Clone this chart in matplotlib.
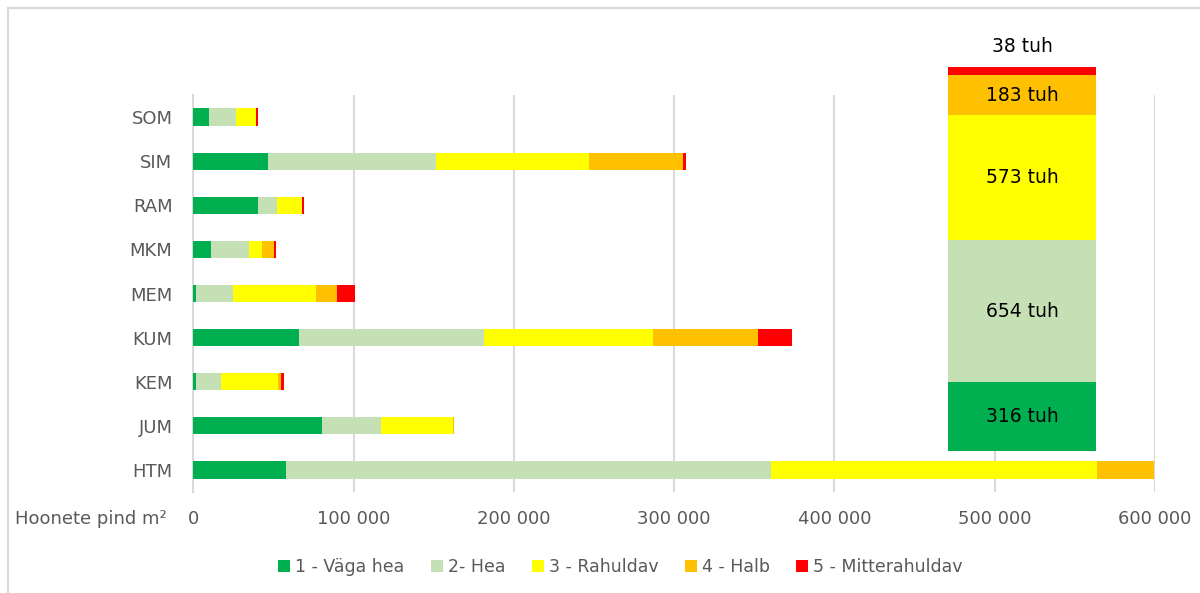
"""Hoonete pind seisukorra järgi ministeeriumide lõikes."""

import numpy as np
import matplotlib
matplotlib.use("Agg")
import matplotlib.pyplot as plt
from matplotlib.patches import Rectangle

# Andmed (m²), loetud jooniselt
ministries = ['HTM', 'JUM', 'KEM', 'KUM', 'MEM', 'MKM', 'RAM', 'SIM', 'SOM']
vaga_hea = [57800, 80000, 1900, 65900, 1900, 11000, 40200, 46600, 9800]
hea = [302800, 37400, 15400, 115200, 22600, 23900, 12000, 104800, 16600]
rahuldav = [203100, 44600, 35300, 105700, 51800, 7900, 15800, 95500, 12700]
halb = [36100, 900, 1900, 65400, 13200, 7300, 0, 58400, 0]
mitterahuldav = [0, 0, 1800, 21200, 11400, 1400, 1300, 2200, 1100]

categories = ['1 - Väga hea', '2- Hea', '3 - Rahuldav', '4 - Halb', '5 - Mitterahuldav']
colors = ['#00B050', '#C5E0B4', '#FFFF00', '#FFC000', '#FF0000']

# Kokku (tuh m²)
totals = [316, 654, 573, 183, 38]
total_labels = ['316 tuh', '654 tuh', '573 tuh', '183 tuh', '38 tuh']

x_ticks = [0, 100000, 200000, 300000, 400000, 500000, 600000]
x_ticklabels = ['0', '100 000', '200 000', '300 000', '400 000', '500 000', '600 000']

plt.rcParams['font.family'] = ['DejaVu Sans']
gray = '#595959'


def draw_main(fig):
    ax = fig.add_axes([0.1611, 0.1703, 0.8012, 0.6695])
    series = [vaga_hea, hea, rahuldav, halb, mitterahuldav]
    y = np.arange(len(ministries))
    left = np.zeros(len(ministries))
    for vals, name, col in zip(series, categories, colors):
        ax.barh(y, vals, left=left, height=0.39, color=col, label=name, zorder=3)
        left += np.array(vals)

    ax.set_ylim(-0.5, len(ministries) - 0.5)
    ax.set_xlim(0, 600000)
    ax.set_yticks(y)
    ax.set_yticklabels(ministries, fontsize=13, color=gray)
    ax.set_xticks(x_ticks)
    ax.set_xticklabels(x_ticklabels, fontsize=13, color=gray)
    ax.tick_params(axis='both', length=0)
    ax.tick_params(axis='y', pad=15)
    ax.tick_params(axis='x', pad=13)
    ax.grid(axis='x', color='#D9D9D9', linewidth=1.5, zorder=0)
    for side in ['top', 'right', 'bottom']:
        ax.spines[side].set_visible(False)
    ax.spines['left'].set_color('#D9D9D9')
    ax.spines['left'].set_linewidth(1.5)

    fig.text(15 / 1200, 1 - 519 / 593, 'Hoonete pind m²', fontsize=13,
             color=gray, ha='left', va='center')

    handles, labels = ax.get_legend_handles_labels()
    fig.legend(handles, labels, loc='center', bbox_to_anchor=(0.517, 1 - 567 / 593),
               ncol=5, frameon=False, fontsize=12.5, handlelength=0.7, handleheight=0.7,
               handletextpad=0.3, columnspacing=1.5, labelcolor=gray)
    return ax


def draw_totals(fig):
    ax = fig.add_axes([948 / 1200, 1 - 451 / 593, 148 / 1200, 384 / 593], zorder=5)
    bottom = 0
    for val, lab, col in zip(totals, total_labels, colors):
        ax.bar(0, val, bottom=bottom, width=1, color=col)
        if val > 100:
            ax.text(0, bottom + val / 2, lab, ha='center', va='center', fontsize=13.5)
        else:
            ax.text(0, bottom + val + 50, lab, ha='center', va='bottom', fontsize=13.5)
        bottom += val
    ax.set_xlim(-0.5, 0.5)
    ax.set_ylim(0, bottom)
    ax.axis('off')


fig = plt.figure(figsize=(12, 5.93), dpi=100)
fig.patches.append(Rectangle((8 / 1200, -0.1), 1.2, 1 - 8 / 593 + 0.1, transform=fig.transFigure,
                             fill=False, edgecolor='#D9D9D9', linewidth=1.5))
draw_main(fig)
draw_totals(fig)
fig.savefig('out.png', dpi=100)
